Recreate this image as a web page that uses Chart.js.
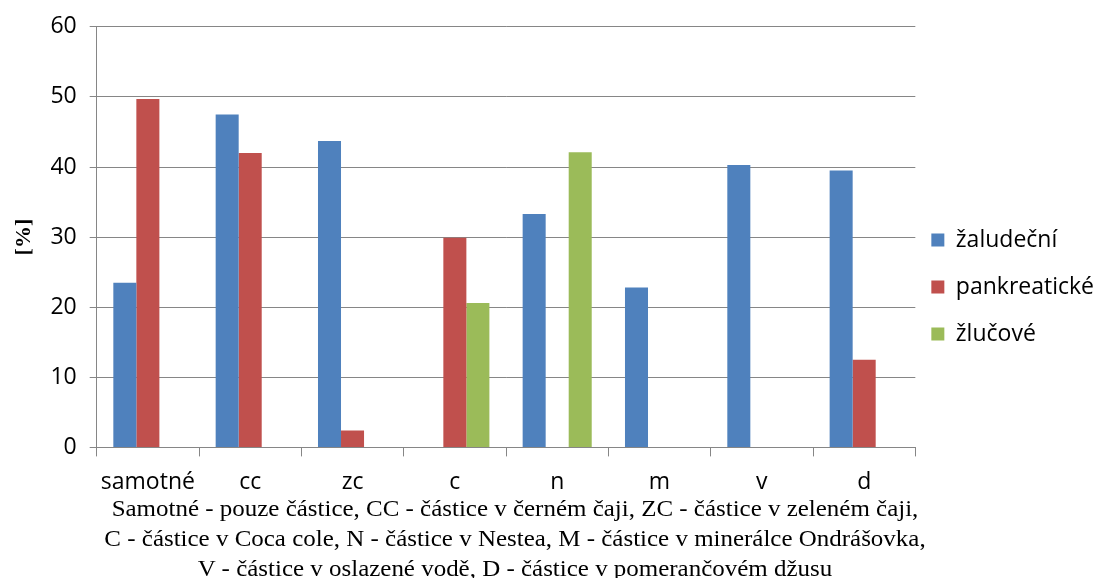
<!DOCTYPE html>
<html>
<head>
<meta charset="utf-8">
<script src="https://cdn.jsdelivr.net/npm/chart.js@4"></script>
<style>
  html, body { margin: 0; padding: 0; background: #fff; }
  #wrap { position: relative; width: 1096px; height: 578px; }
  #footer {
    position: absolute; left: 315px; width: 400px; top: 493px;
    font-family: "Liberation Serif", "Times New Roman", serif;
    font-size: 24px; line-height: 30px; color: #000; text-align: center;
    transform: scaleX(1.04);
  }
  #footer div { white-space: nowrap; margin-left: -300px; margin-right: -300px; }
</style>
</head>
<body>
<div id="wrap">
  <canvas id="chart" width="1096" height="578"></canvas>
  <div id="footer">
    <div>Samotné - pouze částice, CC - částice v černém čaji, ZC - částice v zeleném čaji,</div>
    <div>C - částice v Coca cole, N - částice v Nestea, M - částice v minerálce Ondrášovka,</div>
    <div>V - částice v oslazené vodě, D - částice v pomerančovém džusu</div>
  </div>
</div>
<script>
// --- DATA ---
const categories = ['samotné', 'cc', 'zc', 'c', 'n', 'm', 'v', 'd'];
const zaludecni = [23.5, 47.5, 43.7, 0, 33.3, 22.8, 40.3, 39.5];
const pankreaticke = [49.7, 42.0, 2.4, 29.9, 0, 0, 0, 12.5];
const zlucove = [0, 0, 0, 20.6, 42.1, 0, 0, 0];
const yTicks = [0, 10, 20, 30, 40, 50, 60];

const tickFont = { family: '"Open Sans", Lato, sans-serif', size: 23 };
const axisGray = '#868686';

// legend sits a bit lower and closer to the plot than Chart.js would put it
const legendShift = {
    id: 'legendShift',
    afterLayout(chart) {
        const lg = chart.legend;
        const d = 287 - (lg.top + lg.bottom) / 2;
        lg.top += d;
        lg.bottom += d;
        lg.left -= 8;
        lg.right -= 8;
    }
};

new Chart(document.getElementById('chart').getContext('2d'), {
    type: 'bar',
    data: {
        labels: categories,
        datasets: [
            { label: 'žaludeční', data: zaludecni, backgroundColor: '#4F81BD' },
            { label: 'pankreatické', data: pankreaticke, backgroundColor: '#C0504D' },
            { label: 'žlučové', data: zlucove, backgroundColor: '#9BBB59' }
        ]
    },
    plugins: [legendShift],
    options: {
        responsive: false,
        animation: false,
        categoryPercentage: 0.675,
        barPercentage: 1.0,
        layout: { padding: { left: -5, top: 6, right: -16, bottom: 70 } },
        plugins: {
            legend: {
                position: 'right',
                labels: {
                    color: '#000',
                    font: tickFont,
                    boxWidth: 13,
                    boxHeight: 13,
                    padding: 24
                }
            },
            tooltip: { enabled: false }
        },
        scales: {
            x: {
                grid: {
                    drawOnChartArea: false,
                    color: axisGray,
                    tickLength: 9
                },
                border: { color: axisGray },
                ticks: { color: '#000', font: tickFont, padding: 12 }
            },
            y: {
                min: 0,
                max: 60,
                afterBuildTicks: function (axis) {
                    axis.ticks = yTicks.map(v => ({ value: v }));
                },
                grid: { color: axisGray, tickLength: 7 },
                border: { color: axisGray },
                ticks: { color: '#000', font: tickFont, padding: 13 },
                title: {
                    display: true,
                    text: '[%]',
                    color: '#000',
                    font: { family: '"Liberation Serif", serif', size: 22, weight: 'bold' },
                    padding: { top: 16, bottom: 0 }
                }
            }
        }
    }
});
</script>
</body>
</html>
